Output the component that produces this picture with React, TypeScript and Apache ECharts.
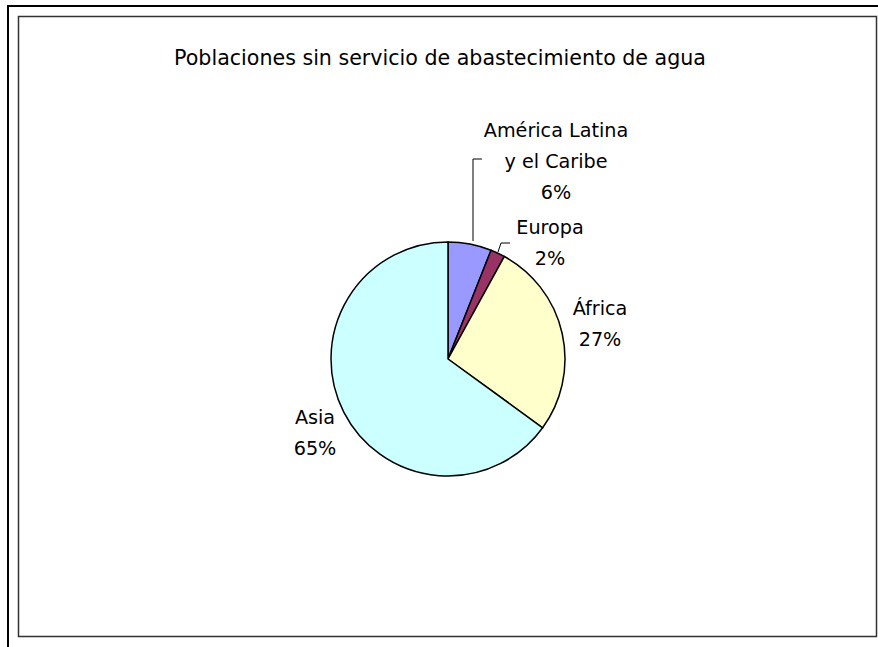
import React, { useEffect, useRef } from "react";
import * as echarts from "echarts";

const titleText = "Poblaciones sin servicio de abastecimiento de agua";
const regions = ["América Latina\ny el Caribe", "Europa", "África", "Asia"];
const shares = [6, 2, 27, 65];
const sliceColors = ["#9999FF", "#993366", "#FFFFCC", "#CCFFFF"];

// label layout (position of each label's centre, and optional leader lines)
const labelCenters = [
  [556, 161],
  [550, 243],
  [600, 324],
  [315, 433],
];
const leaderLines: (number[][] | null)[] = [
  [[473, 241], [473, 159], [482, 159]],
  [[498, 252], [501, 243], [510, 243]],
  null,
  null,
];

export default function App() {
  const ref = useRef<HTMLDivElement>(null);
  useEffect(() => {
    if (!ref.current) return;
    const chart = echarts.init(ref.current, null, { renderer: "svg" });
    const font = "'DejaVu Sans', Verdana, sans-serif";
    chart.setOption({
      animation: false,
      backgroundColor: "#ffffff",
      title: {
        text: titleText,
        left: 435,
        top: 42,
        textAlign: "center",
        textStyle: { fontFamily: font, fontSize: 20.6, fontWeight: "normal", color: "#000" },
      },
      graphic: [
        { type: "line", shape: { x1: 7, y1: 6, x2: 878, y2: 6 }, style: { stroke: "#000", lineWidth: 2 } },
        { type: "line", shape: { x1: 8, y1: 6, x2: 8, y2: 647 }, style: { stroke: "#000", lineWidth: 2 } },
        { type: "rect", shape: { x: 18.5, y: 16.5, width: 858, height: 620 }, style: { fill: "none", stroke: "#333", lineWidth: 1.5 } },
      ],
      series: [
        {
          type: "pie",
          center: [448, 359],
          radius: 117,
          startAngle: 90,
          clockwise: true,
          percentPrecision: 0,
          itemStyle: { borderColor: "#000", borderWidth: 1.5 },
          label: {
            show: true,
            position: "outside",
            formatter: "{b}\n{d}%",
            fontFamily: font,
            fontSize: 19.2,
            lineHeight: 31,
            color: "#000",
            align: "center",
          },
          labelLine: { show: true, lineStyle: { color: "#000", width: 1 } },
          labelLayout: (p: any) => {
            const i = p.dataIndex;
            const res: any = {
              x: labelCenters[i][0],
              y: labelCenters[i][1],
              align: "center",
              verticalAlign: "middle",
            };
            if (leaderLines[i]) res.labelLinePoints = leaderLines[i];
            return res;
          },
          data: regions.map((n, i) => ({
            name: n,
            value: shares[i],
            itemStyle: { color: sliceColors[i] },
            labelLine: { show: !!leaderLines[i] },
          })),
        },
      ],
    });
    return () => chart.dispose();
  }, []);
  return (
    <div
      ref={ref}
      style={{ position: "absolute", left: 0, top: 0, width: 878, height: 647 }}
    />
  );
}
